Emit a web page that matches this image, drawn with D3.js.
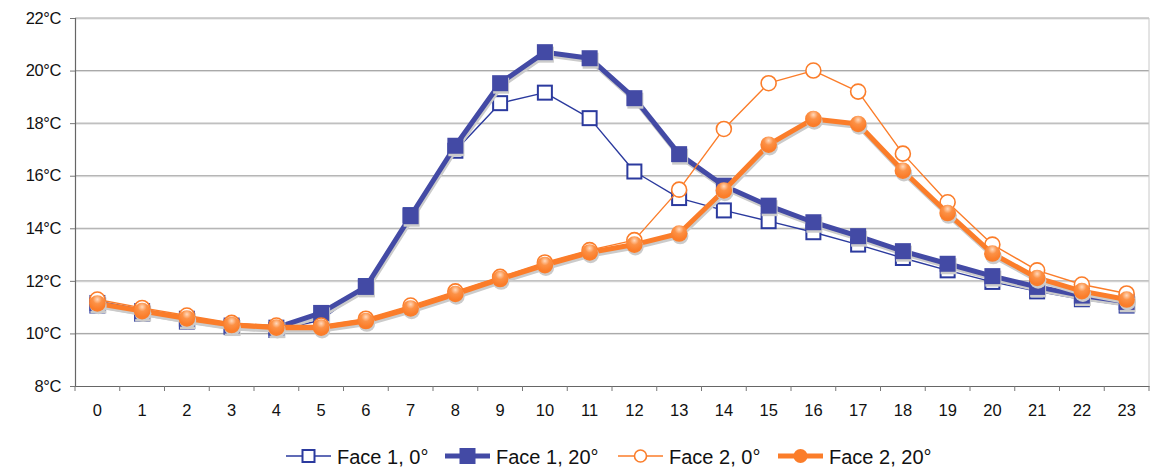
<!DOCTYPE html>
<html>
<head>
<meta charset="utf-8">
<script src="https://cdn.jsdelivr.net/npm/d3@7"></script>
<style>
  body { margin: 0; background: #fff; }
  svg { display: block; }
</style>
</head>
<body>
<script>
// 数据
const hours = d3.range(0, 24);
const yTicks = [8, 10, 12, 14, 16, 18, 20, 22];
const face1Flat = [11.06, 10.75, 10.45, 10.24, 10.13, 10.5, 11.8, 14.5, 16.95, 18.76, 19.16, 18.19, 16.16, 15.15, 14.68, 14.27, 13.85, 13.38, 12.87, 12.4, 11.96, 11.6, 11.3, 11.06];
const face1Tilt = [11.16, 10.85, 10.56, 10.3, 10.22, 10.78, 11.77, 14.46, 17.14, 19.52, 20.7, 20.47, 18.95, 16.82, 15.62, 14.86, 14.23, 13.7, 13.13, 12.65, 12.18, 11.77, 11.44, 11.2];
const face2Flat = [11.29, 10.97, 10.68, 10.4, 10.3, 10.3, 10.56, 11.06, 11.6, 12.15, 12.7, 13.17, 13.55, 15.47, 17.78, 19.52, 20.0, 19.2, 16.84, 14.99, 13.38, 12.4, 11.86, 11.52];
const face2Tilt = [11.14, 10.85, 10.57, 10.32, 10.22, 10.22, 10.47, 10.95, 11.5, 12.07, 12.6, 13.08, 13.38, 13.8, 15.44, 17.18, 18.16, 17.97, 16.19, 14.58, 13.04, 12.11, 11.61, 11.29];

const seriesList = [
    {name: 'Face 1, 0°', values: face1Flat, color: '#2b3a9e', width: 1.4, shape: 'square', filled: false, size: 14, shadow: false},
    {name: 'Face 1, 20°', values: face1Tilt, color: '#434aa5', width: 5, shape: 'square', filled: true, size: 16, shadow: true},
    {name: 'Face 2, 0°', values: face2Flat, color: '#fb7d2a', width: 1.4, shape: 'circle', filled: false, size: 7.5, shadow: false},
    {name: 'Face 2, 20°', values: face2Tilt, color: '#fb7d2a', width: 5, shape: 'circle', filled: true, size: 8.3, shadow: true}
];

const W = 1154, H = 472;
const margin = {left: 75, right: 5, top: 18, bottom: 86};

const svg = d3.select('body').append('svg')
    .attr('width', W)
    .attr('height', H);

// 圆点高光
const grad = svg.append('defs').append('radialGradient')
    .attr('id', 'gloss')
    .attr('cx', '50%').attr('cy', '25%').attr('r', '60%');
grad.append('stop').attr('offset', '0%').attr('stop-color', '#ffd9bd');
grad.append('stop').attr('offset', '45%').attr('stop-color', '#fc9146');
grad.append('stop').attr('offset', '100%').attr('stop-color', '#fb7d2a');

const x = d3.scaleBand()
    .domain(hours)
    .range([margin.left, W - margin.right]);
const y = d3.scaleLinear()
    .domain([8, 22])
    .range([H - margin.bottom, margin.top]);

// 网格线
const grid = svg.append('g');
grid.selectAll('line.g1')
    .data(yTicks.slice(1))
    .enter()
    .append('line')
    .attr('x1', margin.left).attr('x2', W - margin.right)
    .attr('y1', d => y(d) + 1).attr('y2', d => y(d) + 1)
    .attr('stroke', '#dedede').attr('stroke-width', 1);
grid.selectAll('line.g2')
    .data(yTicks.slice(1))
    .enter()
    .append('line')
    .attr('x1', margin.left).attr('x2', W - margin.right)
    .attr('y1', d => y(d)).attr('y2', d => y(d))
    .attr('stroke', '#a4a4a4').attr('stroke-width', 1);
// 右侧边框
svg.append('line')
    .attr('x1', W - margin.right).attr('x2', W - margin.right)
    .attr('y1', margin.top).attr('y2', y(8))
    .attr('stroke', '#c8c8c8');

// 坐标轴
const yAxis = svg.append('g')
    .attr('transform', `translate(${margin.left},0)`)
    .call(d3.axisLeft(y).tickValues(yTicks).tickSize(5).tickPadding(9).tickFormat(d => d + '°C'));
const xAxis = svg.append('g')
    .attr('transform', `translate(0,${y(8)})`)
    .call(d3.axisBottom(x).tickSize(0).tickPadding(18));
// x 轴刻度位于分组边界
svg.append('g')
    .selectAll('line')
    .data(d3.range(0, 25))
    .enter()
    .append('line')
    .attr('x1', d => margin.left + d * x.step())
    .attr('x2', d => margin.left + d * x.step())
    .attr('y1', y(8)).attr('y2', y(8) + 5)
    .attr('stroke', '#777');

[yAxis, xAxis].forEach(a => {
    a.select('.domain').attr('stroke', '#666').attr('stroke-width', 1.2);
    a.selectAll('.tick line').attr('stroke', '#777');
    a.selectAll('text')
        .attr('fill', '#111')
        .style('font-family', '"Liberation Sans", Arial, sans-serif')
        .style('font-size', '16.5px');
});
yAxis.selectAll('text').attr('letter-spacing', '-0.4px');

// 折线
const cx = h => x(h) + x.bandwidth() / 2;
const line = d3.line()
    .x((d, i) => cx(i))
    .y(d => y(d));

const drawMarker = (g, s, dx, dy, fillOverride) => {
    const fill = fillOverride || (s.filled ? (s.shape === 'circle' ? 'url(#gloss)' : s.color) : '#fff');
    if (s.shape === 'square') {
        g.append('rect')
            .attr('x', -s.size / 2 + dx).attr('y', -s.size / 2 + dy)
            .attr('width', s.size).attr('height', s.size)
            .attr('fill', fill)
            .attr('stroke', fillOverride ? 'none' : s.color)
            .attr('stroke-width', s.filled ? 0 : 2);
    } else {
        g.append('circle')
            .attr('cx', dx).attr('cy', dy)
            .attr('r', s.size)
            .attr('fill', fill)
            .attr('stroke', fillOverride ? 'none' : s.color)
            .attr('stroke-width', s.filled ? 0 : 1.6);
    }
};

seriesList.forEach(s => {
    const g = svg.append('g');
    if (s.shadow) {
        g.append('path')
            .attr('d', line(s.values))
            .attr('transform', 'translate(1,2.5)')
            .attr('fill', 'none')
            .attr('stroke', '#cbcbcb')
            .attr('stroke-width', s.width)
            .attr('stroke-linejoin', 'round');
    }
    g.append('path')
        .attr('d', line(s.values))
        .attr('fill', 'none')
        .attr('stroke', s.color)
        .attr('stroke-width', s.width)
        .attr('stroke-linejoin', 'round');
    s.values.forEach((v, i) => {
        const mg = g.append('g').attr('transform', `translate(${cx(i)},${y(v)})`);
        if (s.shadow) drawMarker(mg, s, 1, 2.5, '#cbcbcb');
        drawMarker(mg, s, 0, 0);
    });
});

// 图例
const legendY = 456;
const legendX = [286, 445, 618, 778];
const legendSize = [12, 16, 6, 7];
const legend = svg.append('g');
seriesList.forEach((s, i) => {
    const lg = legend.append('g').attr('transform', `translate(${legendX[i]},${legendY})`);
    const len = 45;
    lg.append('line')
        .attr('x1', 0).attr('x2', len)
        .attr('y1', 0).attr('y2', 0)
        .attr('stroke', s.color)
        .attr('stroke-width', s.filled ? 5 : 1.4);
    const mg = lg.append('g').attr('transform', `translate(${len / 2},0)`);
    drawMarker(mg, Object.assign({}, s, {size: legendSize[i]}), 0, 0, s.filled ? s.color : null);
    lg.append('text')
        .attr('x', len + 6)
        .attr('y', 7.5)
        .attr('fill', '#111')
        .style('font-family', '"Liberation Sans", Arial, sans-serif')
        .style('font-size', '20px')
        .text(s.name);
});
</script>
</body>
</html>
